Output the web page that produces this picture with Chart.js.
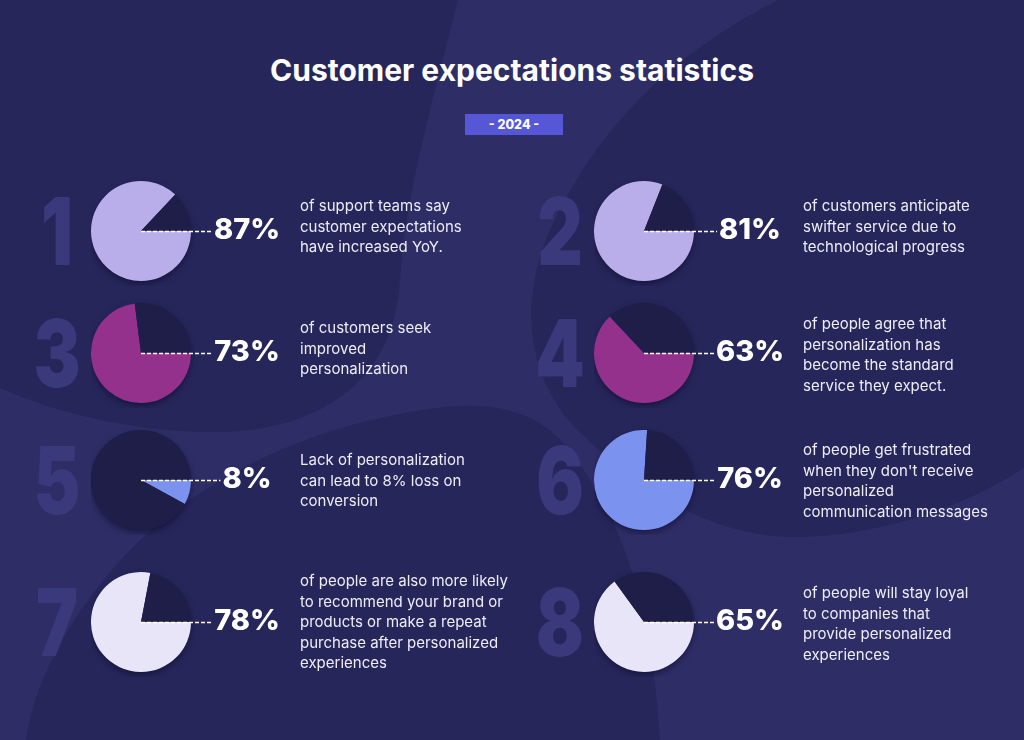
<!DOCTYPE html>
<html>
<head>
<meta charset="utf-8">
<title>Customer expectations statistics</title>
<script src="https://cdn.jsdelivr.net/npm/chart.js@4.4.1/dist/chart.umd.min.js"></script>
<style>
    body {
        margin: 0;
        width: 1024px;
        height: 740px;
        overflow: hidden;
        position: relative;
        background: #2e2d66;
        font-family: Inter, "Noto Sans", sans-serif;
    }
    #bg { position: absolute; left: 0; top: 0; }
    .title {
        position: absolute;
        left: 0;
        width: 1024px;
        top: 51px;
        text-align: center;
        color: #ffffff;
        font-weight: 700;
        font-size: 30px;
        line-height: 38px;
    }
    .badge {
        position: absolute;
        left: 465px;
        top: 114px;
        width: 98px;
        height: 21px;
        background: #5657d6;
        color: #ffffff;
        font-weight: 800;
        font-size: 12.5px;
        line-height: 21px;
        text-align: center;
    }
    .num {
        position: absolute;
        color: #39397b;
        font-weight: 900;
        font-size: 94px;
        line-height: 1;
        transform: translate(-50%, -50%) scaleX(0.75);
    }
    .desc {
        position: absolute;
        color: #eeedf7;
        font-size: 15px;
        line-height: 20.5px;
        white-space: pre-line;
        transform: translateY(-50%);
    }
    canvas.pie { position: absolute; }
</style>
</head>
<body>
<svg id="bg" width="1024" height="740">
    <path d="M0,0 L458,0 C430,110 405,200 400,280 C395,380 320,435 205,432 C120,430 50,410 0,388 Z" fill="#27265b"/>
    <path d="M778,0 C680,50 600,120 550,230 C515,310 530,390 588,440 C640,490 710,535 790,537 C870,538 960,510 1024,468 L1024,0 Z" fill="#27265b"/>
    <path d="M26,740 C35,670 90,580 163,520 C230,465 330,420 444,407 C500,401 540,415 565,445 C610,500 650,580 660,740 Z" fill="#27265b"/>
</svg>
<div class="title">Customer expectations statistics</div>
<div class="badge">- 2024 -</div>
<div id="items"></div>

<script>
// Data read from the infographic (item 1..8, left/right columns, top to bottom)
const itemLabels = ['1', '2', '3', '4', '5', '6', '7', '8'];
const percentages = [87, 81, 73, 63, 8, 76, 78, 65];
const descriptions = [
    'of support teams say\ncustomer expectations\nhave increased YoY.',
    'of customers anticipate\nswifter service due to\ntechnological progress',
    'of customers seek\nimproved\npersonalization',
    'of people agree that\npersonalization has\nbecome the standard\nservice they expect.',
    'Lack of personalization\ncan lead to 8% loss on\nconversion',
    'of people get frustrated\nwhen they don\'t receive\npersonalized\ncommunication messages',
    'of people are also more likely\nto recommend your brand or\nproducts or make a repeat\npurchase after personalized\nexperiences',
    'of people will stay loyal\nto companies that\nprovide personalized\nexperiences'
];

// Styles / layout
const sliceColors = ['#b9aeea', '#b9aeea', '#93318c', '#93318c', '#7b93ee', '#7b93ee', '#e9e5f9', '#e9e5f9'];
const restColor = '#1f1e49';
const rowY = [231, 353, 480, 622];
const pieX = [141, 644];
const descX = [300, 803];
const numX = [57, 560];
const descShift = [-4, -4, -4, 2, 1, 1, 0, 2];

// shadow under each pie
const shadowPlugin = {
    id: 'pieShadow',
    beforeDatasetsDraw(chart) {
        const arc = chart.getDatasetMeta(0).data[0];
        const ctx = chart.ctx;
        ctx.save();
        ctx.shadowColor = 'rgba(10, 8, 35, 0.55)';
        ctx.shadowBlur = 6;
        ctx.shadowOffsetY = 3;
        ctx.fillStyle = restColor;
        ctx.beginPath();
        ctx.arc(arc.x, arc.y, arc.outerRadius - 0.5, 0, Math.PI * 2);
        ctx.fill();
        ctx.restore();
    }
};

// dashed leader line + big percentage label
const calloutPlugin = {
    id: 'callout',
    afterDatasetsDraw(chart) {
        const arc = chart.getDatasetMeta(0).data[0];
        const ctx = chart.ctx;
        const label = chart.data.datasets[0].data[0] + '%';
        ctx.save();
        ctx.font = '800 29px Inter, "Noto Sans", sans-serif';
        const w = ctx.measureText(label).width;
        const tx = arc.x + 106;
        ctx.strokeStyle = '#ffffff';
        ctx.lineWidth = 1.3;
        ctx.setLineDash([4, 2]);
        ctx.beginPath();
        ctx.moveTo(arc.x, arc.y + 0.5);
        ctx.lineTo(tx - w / 2 - 2, arc.y + 0.5);
        ctx.stroke();
        ctx.fillStyle = '#ffffff';
        ctx.textAlign = 'center';
        ctx.textBaseline = 'middle';
        ctx.fillText(label, tx, arc.y - 1);
        ctx.restore();
    }
};

const container = document.getElementById('items');

percentages.forEach((pct, i) => {
    const col = i % 2;
    const cy = rowY[Math.floor(i / 2)];

    // faded big number
    const num = document.createElement('div');
    num.className = 'num';
    num.textContent = itemLabels[i];
    num.style.left = numX[col] + 'px';
    num.style.top = cy + 'px';
    container.appendChild(num);

    // pie canvas
    const canvas = document.createElement('canvas');
    canvas.className = 'pie';
    canvas.width = 210;
    canvas.height = 110;
    canvas.style.left = (pieX[col] - 50) + 'px';
    canvas.style.top = (cy - 55) + 'px';
    container.appendChild(canvas);

    new Chart(canvas.getContext('2d'), {
        type: 'pie',
        data: {
            labels: ['share', 'rest'],
            datasets: [{
                data: [pct, 100 - pct],
                backgroundColor: [sliceColors[i], restColor],
                borderWidth: 0
            }]
        },
        options: {
            responsive: false,
            animation: false,
            events: [],
            rotation: 90,
            layout: { padding: { left: 0, right: 110, top: 5, bottom: 5 } },
            plugins: { legend: { display: false }, tooltip: { enabled: false } }
        },
        plugins: [shadowPlugin, calloutPlugin]
    });

    // description text
    const desc = document.createElement('div');
    desc.className = 'desc';
    desc.textContent = descriptions[i];
    desc.style.left = descX[col] + 'px';
    desc.style.top = (cy + descShift[i]) + 'px';
    container.appendChild(desc);
});
</script>
</body>
</html>
